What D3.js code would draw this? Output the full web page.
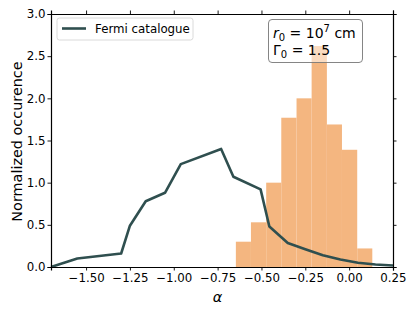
<!DOCTYPE html>
<html>
<head>
<meta charset="utf-8">
<script src="https://cdn.jsdelivr.net/npm/d3@7"></script>
<style>
  body { margin: 0; background: #fff; }
  text { font-family: "DejaVu Sans", sans-serif; fill: #000; }
</style>
</head>
<body>
<div id="chart"></div>
<script>
// histogram of simulated alpha values (bin edges + normalized heights)
const binEdges = [-0.646, -0.560, -0.473, -0.387, -0.300, -0.214, -0.127, -0.041, 0.046, 0.132];
const binHeights = [0.30, 0.53, 1.00, 1.77, 2.00, 2.62, 1.69, 1.39, 0.22];

// Fermi catalogue distribution
const fermiAlpha = [-1.70, -1.55, -1.30, -1.25, -1.16, -1.05, -0.96, -0.73, -0.66, -0.505, -0.455, -0.35, -0.25, -0.15, -0.05, 0.05, 0.15, 0.25];
const fermiValue = [0.0, 0.10, 0.16, 0.49, 0.78, 0.88, 1.22, 1.40, 1.07, 0.92, 0.48, 0.285, 0.21, 0.14, 0.09, 0.05, 0.03, 0.017];

const xTicks = [-1.5, -1.25, -1.0, -0.75, -0.5, -0.25, 0.0, 0.25];
const yTicks = [0.0, 0.5, 1.0, 1.5, 2.0, 2.5, 3.0];

const W = 415, H = 312;
const margin = {top: 14, right: 22, bottom: 45, left: 51};
const width = W - margin.left - margin.right;
const height = H - margin.top - margin.bottom;

const svg = d3.select("#chart").append("svg")
    .attr("width", W).attr("height", H);
const g = svg.append("g")
    .attr("transform", `translate(${margin.left},${margin.top})`);

const x = d3.scaleLinear().domain([-1.70, 0.25]).range([0, width]);
const y = d3.scaleLinear().domain([0, 3]).range([height, 0]);

// bars
const bins = binHeights.map((h, i) => ({x0: binEdges[i], x1: binEdges[i + 1], h: h}));
g.selectAll(".bar").data(bins).enter().append("rect")
    .attr("class", "bar")
    .attr("x", d => x(d.x0))
    .attr("width", d => x(d.x1) - x(d.x0))
    .attr("y", d => y(d.h))
    .attr("height", d => y(0) - y(d.h))
    .attr("fill", "#f4b680");

// line
const line = d3.line().x((d, i) => x(fermiAlpha[i])).y(d => y(d));
g.append("path").datum(fermiValue)
    .attr("d", line)
    .attr("fill", "none")
    .attr("stroke", "#2f4f4f")
    .attr("stroke-width", 2.6)
    .attr("stroke-linejoin", "round");

// axes
const fmt2 = d => d3.format(".2f")(d).replace("-", "\u2212");
const xAxis = g.append("g").attr("transform", `translate(0,${height})`)
    .call(d3.axisBottom(x).tickValues(xTicks).tickFormat(fmt2).tickSize(3.5).tickPadding(3));
const xTop = g.append("g")
    .call(d3.axisTop(x).tickValues(xTicks).tickFormat("").tickSize(3.5));
const yAxis = g.append("g")
    .call(d3.axisLeft(y).tickValues(yTicks).tickFormat(d3.format(".1f")).tickSize(3.5).tickPadding(2));
const yRight = g.append("g").attr("transform", `translate(${width},0)`)
    .call(d3.axisRight(y).tickValues(yTicks).tickFormat("").tickSize(3.5));

[xAxis, xTop, yAxis, yRight].forEach(a => {
    a.select(".domain").attr("stroke", "#000").attr("stroke-width", 1.2);
    a.selectAll(".tick line").attr("stroke", "#000").attr("stroke-width", 0.9);
    a.selectAll("text").style("font-size", "11.8px").style("font-family", "DejaVu Sans");
});

// axis labels
svg.append("text")
    .attr("x", margin.left + x(-0.75)).attr("y", 302)
    .attr("text-anchor", "middle")
    .style("font-size", "14.5px").style("font-style", "italic")
    .text("\u03b1");
svg.append("text")
    .attr("transform", `translate(22,${margin.top + height / 2 + 1}) rotate(-90)`)
    .attr("text-anchor", "middle")
    .style("font-size", "14.4px")
    .text("Normalized occurence");

// legend
const leg = svg.append("g");
leg.append("rect")
    .attr("x", 57).attr("y", 18).attr("width", 136).attr("height", 22)
    .attr("rx", 2.5)
    .attr("fill", "#fff").attr("fill-opacity", 0.8)
    .attr("stroke", "#d6d6d6").attr("stroke-width", 0.9);
leg.append("line")
    .attr("x1", 62).attr("x2", 86).attr("y1", 28.5).attr("y2", 28.5)
    .attr("stroke", "#2f4f4f").attr("stroke-width", 2.6);
leg.append("text")
    .attr("x", 95).attr("y", 33)
    .style("font-size", "11.8px")
    .text("Fermi catalogue");

// annotation box
const ann = svg.append("g");
ann.append("rect")
    .attr("x", 268.5).attr("y", 19.5).attr("width", 94).attr("height", 43)
    .attr("rx", 3.5)
    .attr("fill", "#fff").attr("fill-opacity", 0.5)
    .attr("stroke", "#777").attr("stroke-width", 0.9);
const t1 = ann.append("text").attr("x", 273).attr("y", 38).style("font-size", "14px");
t1.append("tspan").style("font-style", "italic").text("r");
t1.append("tspan").attr("dy", 3).style("font-size", "10px").text("0");
t1.append("tspan").attr("dy", -3).text(" = 10");
t1.append("tspan").attr("dy", -6).style("font-size", "10px").text("7");
t1.append("tspan").attr("dy", 6).text(" cm");
const t2 = ann.append("text").attr("x", 273).attr("y", 55).style("font-size", "14px");
t2.append("tspan").text("\u0393");
t2.append("tspan").attr("dy", 3).style("font-size", "10px").text("0");
t2.append("tspan").attr("dy", -3).text(" = 1.5");
</script>
</body>
</html>
